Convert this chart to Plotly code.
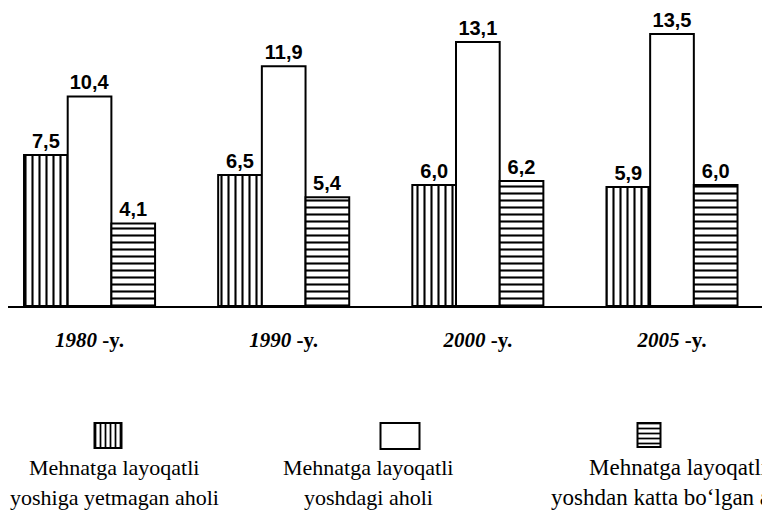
import plotly.graph_objects as go

# ---- data ----
years = ["1980", "1990", "2000", "2005"]
year_labels = ["<i>1980</i> -y.", "<i>1990</i> -y.", "<i>2000</i> -y.", "<i>2005</i> -y."]
under_age = [7.5, 6.5, 6.0, 5.9]        # Mehnatga layoqatli yoshiga yetmagan aholi
working_age = [10.4, 11.9, 13.1, 13.5]  # Mehnatga layoqatli yoshdagi aholi
over_age = [4.1, 5.4, 6.2, 6.0]         # Mehnatga layoqatli yoshdan katta bo'lgan aholi

legend_line1 = ["Mehnatga layoqatli", "Mehnatga layoqatli", "Mehnatga layoqatli"]
legend_line2 = ["yoshiga yetmagan aholi", "yoshdagi aholi", "yoshdan katta bo‘lgan aholi"]

# ---- styling / layout ----
W, H = 770, 529
BASE_PX = 298
patterns = ["|", "", "-"]

def fmt(v):
    return f"{v:.1f}".replace(".", ",")

fig = go.Figure()
for vals, pat in zip([under_age, working_age, over_age], patterns):
    fig.add_trace(go.Bar(
        x=years, y=vals,
        text=[fmt(v) for v in vals],
        textposition="outside",
        textfont=dict(family="Liberation Sans", size=20, color="black", weight="bold"),
        constraintext="none",
        cliponaxis=False,
        marker=dict(color="white", line=dict(color="black", width=2),
                    pattern=dict(shape=pat, fgcolor="black", bgcolor="white",
                                 size=7, solidity=0.3, fillmode="replace")),
        showlegend=False, hoverinfo="skip",
        xaxis="x", yaxis="y",
    ))

# legend swatches (pixel coordinates on helper axes)
sw_x = [100, 392, 641]
sw_w = [27, 39, 23]
sw_bottom = [440, 441, 439]
sw_h = [25, 26, 24]
fig.add_trace(go.Bar(
    x=sw_x, y=[-h for h in sw_h], base=sw_bottom, width=sw_w,
    offset=[-w / 2 for w in sw_w],
    marker=dict(color="white", line=dict(color="black", width=2),
                pattern=dict(shape=patterns, fgcolor="black", bgcolor="white",
                             size=5, solidity=0.35, fillmode="replace")),
    showlegend=False, hoverinfo="skip", xaxis="x2", yaxis="y2",
))

text_cx = [106, 360, 670]
text_size = [22, 22, 23]
annotations = []
for cx, fs, l1, l2 in zip(text_cx, text_size, legend_line1, legend_line2):
    for yy, t in ((459, l1), (489, l2)):
        annotations.append(dict(
            x=cx, y=yy, xref="x2", yref="y2", text=t, showarrow=False,
            xanchor="center", yanchor="middle",
            font=dict(family="Liberation Serif", size=fs, color="black"),
        ))

fig.update_layout(
    width=W, height=H,
    margin=dict(l=0, r=0, t=0, b=0),
    paper_bgcolor="white", plot_bgcolor="rgba(0,0,0,0)",
    barmode="group", bargap=0.325, bargroupgap=0,
    xaxis=dict(
        type="category", categoryorder="array", categoryarray=years,
        domain=[0, 1], range=[-0.42, 3.546],
        tickmode="array", tickvals=years, ticktext=year_labels,
        tickfont=dict(family="Liberation Serif", size=21, color="black", weight="bold"),
        ticks="outside", ticklen=14, tickcolor="rgba(0,0,0,0)",
        showline=True, linecolor="black", linewidth=2,
        showgrid=False, zeroline=False, anchor="y",
    ),
    yaxis=dict(
        domain=[(H - BASE_PX) / H, 1], range=[0, 14.79],
        visible=False, showgrid=False, zeroline=False, anchor="x",
    ),
    xaxis2=dict(domain=[0, 1], range=[0, W], visible=False, anchor="y2"),
    yaxis2=dict(domain=[0, (H - BASE_PX) / H], range=[H, BASE_PX], visible=False, anchor="x2"),
    annotations=annotations,
)

fig.write_html("out.html")
